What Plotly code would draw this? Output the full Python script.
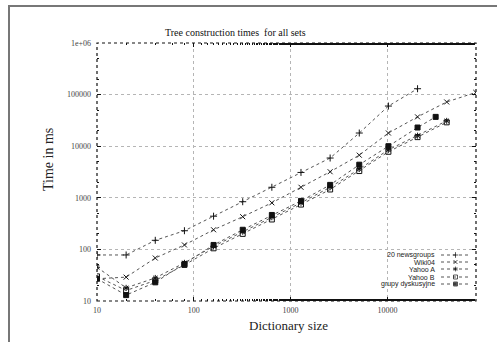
import plotly.graph_objects as go

# ---- data ----
x_news = [10, 20, 40, 80, 160, 320, 640, 1280, 2560, 5120, 10240, 20480]
y_news = [78, 78, 150, 230, 440, 840, 1600, 3100, 5900, 18000, 60000, 130000]

x_wiki = [10, 20, 40, 80, 160, 320, 640, 1280, 2560, 5120, 10240, 20480, 40960, 81920]
y_wiki = [27, 29, 68, 122, 240, 430, 800, 1600, 3200, 6700, 18000, 37000, 72000, 110000]

x_yahoo = [10, 20, 40, 80, 160, 320, 640, 1280, 2560, 5120, 10240, 20480, 40960]
y_yahooA = [45, 18, 28, 55, 115, 220, 420, 800, 1600, 3600, 8500, 16000, 31000]
y_yahooB = [30, 16, 25, 50, 105, 200, 380, 740, 1450, 3300, 7800, 15000, 29000]

x_grupy = [10, 20, 40, 80, 160, 320, 640, 1280, 2560, 5120, 10240, 20480, 31500]
y_grupy = [27, 13, 23, 52, 122, 240, 465, 870, 1780, 4380, 10000, 23000, 37000]

series_names = ["20 newsgroups", "Wiki04", "Yahoo A", "Yahoo B", "grupy dyskusyjne"]
series_symbols = ["cross-thin-open", "x-thin-open", "asterisk-open", "square-open", "square"]

y_tickvals = [10, 100, 1000, 10000, 100000, 1000000]
y_ticktext = ["10", "100", "1000", "10000", "100000", "1e+06"]
x_tickvals = [10, 100, 1000, 10000]
x_ticktext = ["10", "100", "1000", "10000"]

W, H = 497, 342
L, R, T, B = 97, 476, 43, 301  # plot area in pixels


def px(xp):
    return (xp - L) / (R - L)


def py(yp):
    return (B - yp) / (B - T)


fig = go.Figure()
data = [(x_news, y_news), (x_wiki, y_wiki), (x_yahoo, y_yahooA), (x_yahoo, y_yahooB), (x_grupy, y_grupy)]
for (xs, ys), name, sym in zip(data, series_names, series_symbols):
    fig.add_trace(go.Scatter(
        x=xs, y=ys, name=name, mode="lines+markers",
        line=dict(color="#555555", width=1, dash="dot"),
        marker=dict(symbol=sym, size=5, color="#111111",
                    line=dict(color="#111111", width=1)),
        showlegend=False,
    ))

# manual legend (text on left, sample on right, like the original)
leg_rows = [255, 262, 269, 277, 284]
for name, sym, yr in zip(series_names, series_symbols, leg_rows):
    fig.add_trace(go.Scatter(
        x=[px(441), px(455.5), px(470)], y=[py(yr)] * 3,
        xaxis="x2", yaxis="y2", mode="lines+markers",
        line=dict(color="#555555", width=1, dash="dot"),
        marker=dict(symbol=sym, size=[0, 4, 0], color="#111111",
                    line=dict(color="#111111", width=1)),
        showlegend=False, hoverinfo="skip",
    ))
    fig.add_annotation(x=px(437), y=py(yr), xref="paper", yref="paper",
                       text=name, showarrow=False, xanchor="right", yanchor="middle",
                       font=dict(family="Liberation Sans", size=7, color="#222"))

axis_common = dict(
    type="log", showgrid=True, gridcolor="#b5b5b5", griddash="dot", gridwidth=1,
    ticks="inside", ticklen=4, tickcolor="#111", mirror="allticks", showline=False,
    zeroline=False, tickfont=dict(family="Liberation Serif", size=8, color="#444"),
    minor=dict(ticks="inside", ticklen=2, tickcolor="#111", showgrid=False),
)

fig.update_layout(
    width=W, height=H,
    margin=dict(l=L, r=W - R, t=T, b=H - B, autoexpand=False),
    paper_bgcolor="white", plot_bgcolor="white",
    xaxis=dict(range=[1, 4.915], tickvals=x_tickvals, ticktext=x_ticktext,
               ticklabelstandoff=3, **axis_common),
    yaxis=dict(range=[1, 6], tickvals=y_tickvals, ticktext=y_ticktext,
               ticklabelstandoff=5, **axis_common),
    xaxis2=dict(overlaying="x", range=[0, 1], visible=False),
    yaxis2=dict(overlaying="y", range=[0, 1], visible=False),
    showlegend=False,
)

# dotted frame around plot area
fig.add_shape(type="rect", xref="paper", yref="paper", x0=0, x1=1, y0=0, y1=1,
              line=dict(color="#111", width=1.2, dash="dot"))
# outer grey border of the picture
fig.add_shape(type="rect", xref="paper", yref="paper",
              x0=px(9), x1=px(505), y0=py(350), y1=py(6),
              line=dict(color="#777", width=2))

fig.add_annotation(x=px(235), y=py(33), xref="paper", yref="paper",
                   xanchor="center", yanchor="middle",
                   text="Tree construction times  for all sets", showarrow=False,
                   font=dict(family="Liberation Serif", size=10, color="#111"))
fig.add_annotation(x=px(48), y=py(160), xref="paper", yref="paper",
                   xanchor="center", yanchor="middle",
                   text="Time in ms", showarrow=False, textangle=-90,
                   font=dict(family="Liberation Serif", size=14, color="#222"))
fig.add_annotation(x=px(288), y=py(325), xref="paper", yref="paper",
                   xanchor="center", yanchor="middle",
                   text="Dictionary size", showarrow=False,
                   font=dict(family="Liberation Serif", size=13, color="#222"))

fig.write_html("out.html", config={"displayModeBar": False},
               post_script="document.body.style.margin='0';document.body.style.overflow='hidden';")
